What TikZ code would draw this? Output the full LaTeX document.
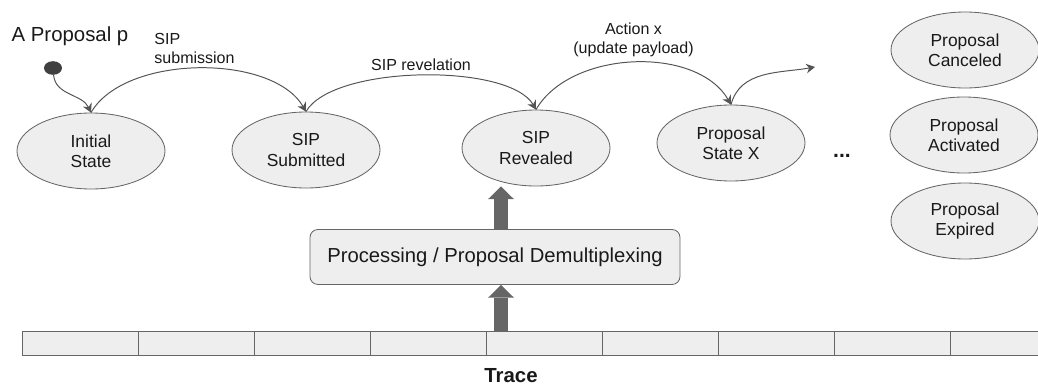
\documentclass[tikz,border=0pt]{standalone}
\usepackage{fontspec}
\setmainfont{Liberation Sans}
\usetikzlibrary{shapes.geometric,arrows.meta}
\definecolor{StateFill}{rgb}{0.933,0.933,0.933}
\definecolor{StateLine}{rgb}{0.40,0.40,0.40}
\definecolor{EdgeGray}{rgb}{0.33,0.33,0.33}
\definecolor{FatGray}{rgb}{0.40,0.40,0.40}
\definecolor{DotGray}{rgb}{0.25,0.25,0.25}
\definecolor{TextBlack}{rgb}{0.10,0.10,0.10}

\begin{document}
\begin{tikzpicture}[
  state/.style={ellipse, draw=StateLine, fill=StateFill, line width=0.6pt,
    minimum width=3.7cm, minimum height=1.9cm, inner sep=0pt, align=center,
    text=TextBlack, font=\fontsize{12.4}{14.4}\selectfont},
  transition/.style={EdgeGray, line width=0.7pt, -{Stealth[length=2.2mm, width=2.4mm]}},
  fatarrow/.style={FatGray, line width=0.36cm, -{Triangle[length=0.32cm, width=0.65cm, line width=0pt]}},
  cell/.style={draw=StateLine, fill=StateFill, line width=0.6pt,
    minimum width=2.9cm, minimum height=0.6cm, inner sep=0pt},
  edgelabel/.style={text=TextBlack, font=\fontsize{11.4}{13.5}\selectfont}
]

% Page frame (1038 x 389 px, 40px = 1cm)
\useasboundingbox (0,0) rectangle (25.95,-9.725);

% ============================================================
% STATE MACHINE (top row)
% ============================================================

% Title and start dot
\node[text=TextBlack, font=\fontsize{14.5}{16}\selectfont] (title) at (1.75,-0.9) {A Proposal p};
\node[ellipse, fill=DotGray, minimum width=0.45cm, minimum height=0.34cm, inner sep=0pt] (start) at (1.325,-1.7) {};

% States along the main path
\node[state] (initial)   at (2.275,-3.775) {Initial\\State};
\node[state] (submitted) at (7.65,-3.75)   {SIP\\Submitted};
\node[state] (revealed)  at (13.4,-3.7)    {SIP\\Revealed};
\node[state] (statex)    at (18.275,-3.575) {Proposal\\State X};
\node[text=TextBlack, font=\bfseries\fontsize{15}{16}\selectfont] (dots) at (21.05,-3.9) {...};

% Final states, right column
\node[state] (canceled)  at (24.125,-1.25)  {Proposal\\Canceled};
\node[state] (activated) at (24.1,-3.375)   {Proposal\\Activated};
\node[state] (expired)   at (24.125,-5.525) {Proposal\\Expired};

% Transitions
\draw[transition] (start) to[out=-85, in=115] (initial.north);
\draw[transition] (initial.north) to[out=60, in=120, looseness=0.8]
  node[edgelabel, above, align=left, xshift=-0.1cm] {SIP\\submission} (submitted.north);
\draw[transition] (submitted.north) to[out=60, in=120, looseness=0.6]
  node[edgelabel, above] {SIP revelation} (revealed.north);
\draw[transition] (revealed.north) to[out=60, in=120, looseness=0.9]
  node[edgelabel, above, align=center] {Action x\\(update payload)} (statex.north);
\coordinate (next) at (20.375,-1.675);
\draw[transition] (statex.north) to[out=75, in=190] (next);

% ============================================================
% PROCESSING AND TRACE (bottom)
% ============================================================

\node[draw=StateLine, fill=StateFill, line width=0.6pt, rounded corners=0.2cm,
  minimum width=9.25cm, minimum height=1.375cm, text=TextBlack,
  font=\fontsize{14.4}{16}\selectfont] (demux) at (12.375,-6.425) {Processing / Proposal Demultiplexing};

% Trace cells, 116px wide, last one runs off the page
\foreach \i in {1,...,9}{%
  \node[cell, anchor=west] (cell\i) at ({0.55+(\i-1)*2.9},-8.575) {};
}
\node[text=TextBlack, font=\bfseries\fontsize{14.5}{16}\selectfont] (trace) at (12.775,-9.4) {Trace};

% Fat arrows up the middle
\coordinate (arrx) at (12.525,0);
\draw[fatarrow] (cell5.north -| arrx) -- (demux.south -| arrx);
\draw[fatarrow] (demux.north -| arrx) -- (revealed.south -| arrx);

\end{tikzpicture}
\end{document}
